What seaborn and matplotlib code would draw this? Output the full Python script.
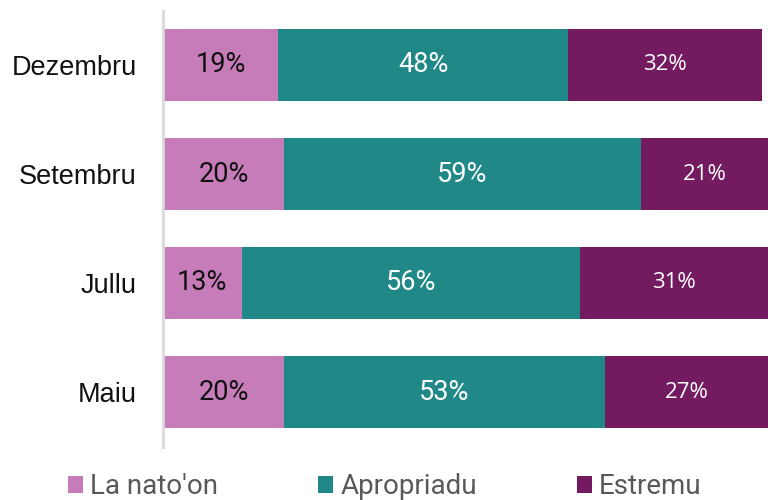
import matplotlib
matplotlib.use("Agg")
import matplotlib.pyplot as plt
import seaborn as sns
import pandas as pd
import numpy as np
from matplotlib.patches import Patch

categories = ["Dezembru", "Setembru", "Jullu", "Maiu"]
la_nato_on = [19, 20, 13, 20]
apropriadu = [48, 59, 56, 53]
estremu = [32, 21, 31, 27]
series_names = ["La nato'on", "Apropriadu", "Estremu"]
colors = ["#C77CBA", "#208887", "#731A61"]

sns.set_theme(style="white")
plt.rcParams["font.family"] = ["Liberation Sans", "DejaVu Sans"]

fig = plt.figure(figsize=(7.68, 5.0), dpi=100)
ax = fig.add_axes([163 / 768, 1 - 446.5 / 500, 1 - 163 / 768, (446.5 - 10.5) / 500])

vals = np.array([la_nato_on, apropriadu, estremu], dtype=float)
cums = np.cumsum(vals, axis=0)
for i in reversed(range(3)):
    df = pd.DataFrame({"cat": categories, "v": cums[i]})
    sns.barplot(data=df, x="v", y="cat", orient="h", color=colors[i],
                saturation=1, width=0.66, ax=ax, linewidth=0)

for i in range(3):
    starts = cums[i] - vals[i]
    for j, cat in enumerate(categories):
        xc = starts[j] + vals[i][j] / 2
        if i == 0:
            ax.text(xc, j, f"{int(vals[i][j])}%", ha="center", va="center",
                    fontsize=19.5, color="#111111", family=["Roboto", "DejaVu Sans"])
        elif i == 1:
            ax.text(xc, j, f"{int(vals[i][j])}%", ha="center", va="center",
                    fontsize=19.5, color="white", family=["Roboto", "DejaVu Sans"])
        else:
            ax.text(xc, j, f"{int(vals[i][j])}%", ha="center", va="center",
                    fontsize=16, color="white", family=["Open Sans", "DejaVu Sans"])

ax.set_xlim(0, 100)
ax.set_ylim(3.5, -0.5)
ax.set_xlabel("")
ax.set_ylabel("")
ax.set_xticks([])
ax.tick_params(axis="y", length=0, pad=19, labelsize=19.5, labelcolor="#111111")
for s in ["top", "right", "bottom"]:
    ax.spines[s].set_visible(False)
ax.spines["left"].set_color("#D9D9D9")
ax.spines["left"].set_linewidth(2)

handles = [Patch(facecolor=c, edgecolor="none") for c in colors]
leg = fig.legend(handles, series_names, loc="center", bbox_to_anchor=(0.501, 0.027),
                 ncol=3, frameon=False, handlelength=0.55, handleheight=0.55,
                 handletextpad=0.25, columnspacing=3.6,
                 prop={"family": ["Roboto", "DejaVu Sans"], "size": 20})
for t in leg.get_texts():
    t.set_color("#595959")

fig.savefig("out.png", dpi=100)
